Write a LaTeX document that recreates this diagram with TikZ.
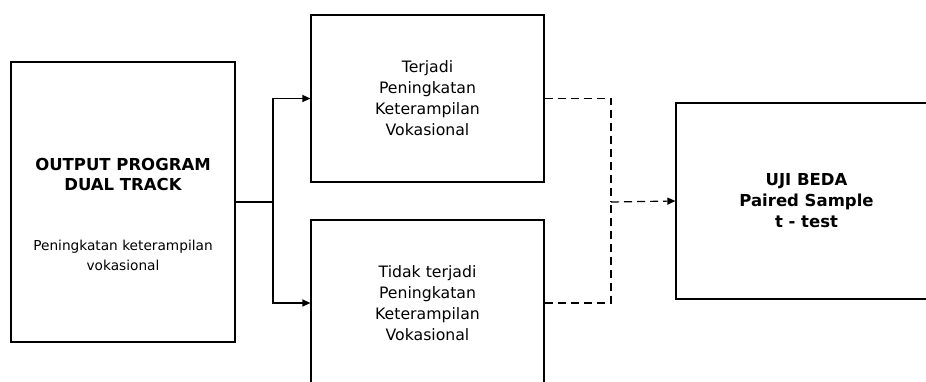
\documentclass[tikz,border=0pt]{standalone}
\usepackage{fontspec}
\setmainfont{DejaVu Sans}
\usetikzlibrary{arrows.meta}

\begin{document}
\begin{tikzpicture}[x=1pt,y=-1pt,line width=1.2pt,
    kotak/.style={draw,rectangle,inner sep=0pt},
    teks/.style={align=center,font=\fontsize{15.7}{21}\selectfont},
    panah/.style={-{Triangle[length=8pt,width=7pt]}},
    putus/.style={dash pattern=on 8pt off 5pt}]
          \clip (0,0) rectangle (926,381);
          % kotak-kotak
          \node[kotak,minimum width=224pt,minimum height=280pt] (output) at (123,202) {};
          \node[align=center,font=\fontsize{16.5}{20}\selectfont\bfseries] (judul) at (123,174) {OUTPUT PROGRAM\\DUAL TRACK};
          \node[align=center,font=\fontsize{13.7}{20}\selectfont] (ket) at (123,255) {Peningkatan keterampilan\\vokasional};
          \node[kotak,teks,minimum width=233pt,minimum height=167pt] (naik) at (427.5,98.5) {Terjadi\\Peningkatan\\Keterampilan\\Vokasional};
          \node[kotak,teks,minimum width=233pt,minimum height=166pt] (tetap) at (427.5,303) {Tidak terjadi\\Peningkatan\\Keterampilan\\Vokasional};
          \node[kotak,align=center,font=\fontsize{16.5}{21}\selectfont\bfseries,minimum width=261pt,minimum height=196pt] (uji) at (806.5,201) {UJI BEDA\\Paired Sample\\t - test};
          % garis
          \coordinate (cabang) at (273,202);
          \coordinate (gabung) at (611,202);
          \draw (output.east) -- (cabang);
          \draw[panah] (cabang) |- (naik.west);
          \draw[panah] (cabang) |- (tetap.west);
          \draw[putus] (naik.east) -| (gabung);
          \draw[putus] (tetap.east) -| (gabung);
          \draw[putus,panah] (gabung) -- (uji.west);
        \end{tikzpicture}
\end{document}
